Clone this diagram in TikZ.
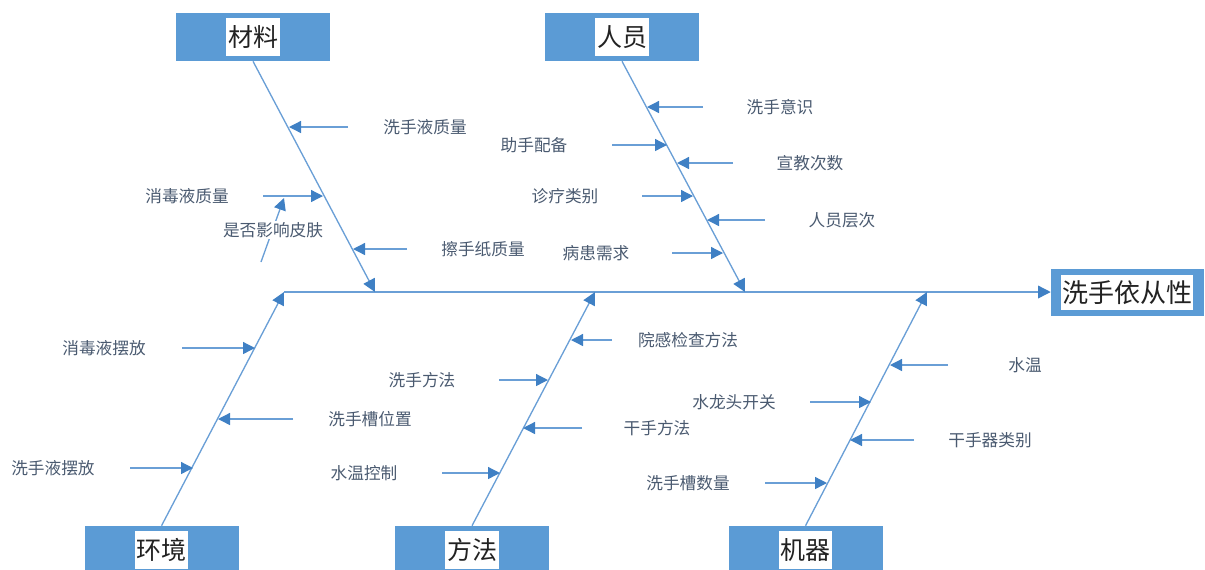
\documentclass[tikz,border=0pt]{standalone}
\usepackage{fontspec}
\setmainfont{Noto Sans CJK SC}
\usetikzlibrary{arrows.meta}
\definecolor{boxblue}{HTML}{5B9BD5}
\definecolor{lineblue}{HTML}{6A9FD6}
\definecolor{headblue}{HTML}{3F80C4}
\definecolor{txt}{HTML}{4A5A70}
\definecolor{cattxt}{HTML}{222222}
\newcommand{\causeitem}[6]{%
  \node[causetext] (#1) at (#3,#4) {#2};
  \coordinate (#1-s) at (#5,#4);
  \coordinate (#1-t) at (#6,#4);
  \draw[sub] (#1-s) -- (#1-t);
}
\begin{document}
\begin{tikzpicture}[x=0.75pt,y=-0.75pt,
  catbox/.style={fill=boxblue, minimum width=115.5pt, minimum height=36pt, inner sep=0pt},
  catlabel/.style={fill=white, inner xsep=1.25pt, inner ysep=0pt, minimum height=28.5pt, text=cattxt, font=\fontsize{18.75}{20}\selectfont},
  causetext/.style={text=txt, inner sep=1pt, font=\fontsize{12.5}{14}\selectfont},
  bone/.style={draw=lineblue, line width=1pt, -{Triangle[length=9.5pt,width=9.5pt,color=headblue]}},
  sub/.style={draw=lineblue, line width=1pt, -{Triangle[length=9pt,width=9pt,color=headblue]}}]
\useasboundingbox (0,0) rectangle (1205,569);
\clip (0,0) rectangle (1205,569);
% category boxes
\node[catbox] (mat) at (253,37) {};
\node[catlabel] (matl) at (mat) {材料};
\node[catbox] (per) at (622,37) {};
\node[catlabel] (perl) at (per) {人员};
\node[catbox] (env) at (161.5,550) {};
\node[catlabel] (envl) at (env) {环境};
\node[catbox] (met) at (472,550) {};
\node[catlabel] (metl) at (met) {方法};
\node[catbox] (mac) at (805.5,550) {};
\node[catlabel] (macl) at (mac) {机器};
% effect
\node[fill=boxblue, minimum width=114.75pt, minimum height=35.25pt, inner sep=0pt] (eff) at (1127.5,292.5) {};
\node[fill=white, minimum width=99pt, minimum height=26.25pt, inner sep=0pt, text=cattxt, font=\fontsize{19.5}{21}\selectfont] (effl) at (1127,292.5) {洗手依从性};
% spine points
\coordinate (s0) at (284,292);
\coordinate (smat) at (375,292);
\coordinate (sper) at (745,292);
\coordinate (smet) at (595,292);
\coordinate (smac) at (927,292);
% spine
\draw[bone] (s0) -- (eff.west |- s0);
% bones
\draw[bone] (mat.south) -- (smat);
\draw[bone] (per.south) -- (sper);
\draw[bone] (env.north) -- (s0);
\draw[bone] (met.north) -- (smet);
\draw[bone] (mac.north) -- (smac);
% 材料
\causeitem{c1}{洗手液质量}{425}{127}{348}{289}
\causeitem{c2}{消毒液质量}{187}{196}{263}{323}
\causeitem{c3}{擦手纸质量}{483}{249}{407}{353}
\coordinate (skin-s) at (261,262);
\coordinate (skin-t) at (284,198);
\draw[sub] (skin-s) -- (skin-t);
\node[causetext, fill=white] (skin) at (273,230) {是否影响皮肤};
% 人员
\causeitem{p1}{洗手意识}{780}{107}{703}{647}
\causeitem{p2}{助手配备}{534}{145}{612}{667}
\causeitem{p3}{宣教次数}{810}{163}{733}{677}
\causeitem{p4}{诊疗类别}{565}{196}{642}{693}
\causeitem{p5}{人员层次}{842}{220}{765}{707}
\causeitem{p6}{病患需求}{596}{253}{672}{723}
% 环境
\causeitem{e1}{消毒液摆放}{104}{348}{182}{255}
\causeitem{e2}{洗手槽位置}{370}{419}{293}{218}
\causeitem{e3}{洗手液摆放}{53}{468}{130}{193}
% 方法
\causeitem{f1}{院感检查方法}{688}{340}{612}{571}
\causeitem{f2}{洗手方法}{422}{380}{499}{548}
\causeitem{f3}{干手方法}{657}{428}{582}{523}
\causeitem{f4}{水温控制}{364}{473}{442}{500}
% 机器
\causeitem{j1}{水温}{1025}{365}{948}{890}
\causeitem{j2}{水龙头开关}{734}{402}{810}{871}
\causeitem{j3}{干手器类别}{990}{440}{914}{850}
\causeitem{j4}{洗手槽数量}{688}{483}{765}{827}
\end{tikzpicture}
\end{document}
